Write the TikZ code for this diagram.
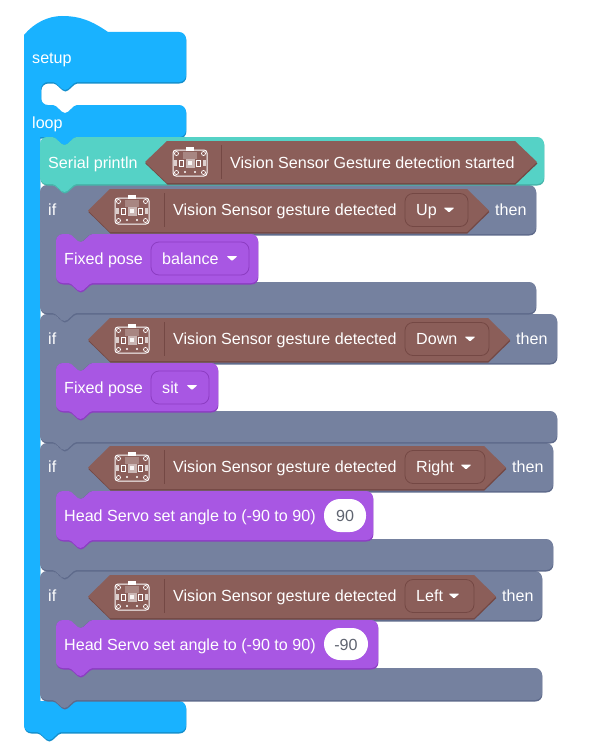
\documentclass[tikz,border=0pt]{standalone}
\usepackage{fontspec}
\setmainfont{Liberation Sans}
\definecolor{blueM}{HTML}{19B2FF}\definecolor{blueS}{HTML}{148FCC}
\definecolor{tealM}{HTML}{55D2C6}\definecolor{tealS}{HTML}{46B5AA}
\definecolor{slateM}{HTML}{75819F}\definecolor{slateS}{HTML}{5E6A8B}
\definecolor{purpM}{HTML}{A857E3}\definecolor{purpS}{HTML}{8C3DC2}
\definecolor{brownM}{HTML}{8B5E59}\definecolor{brownS}{HTML}{744844}
\definecolor{numgray}{HTML}{5F6470}
\newcommand\cTR[2]{-- ({#1-7},#2) .. controls ({#1-3},#2) and (#1,{#2+3}) .. (#1,{#2+7})}
\newcommand\cBR[2]{-- (#1,{#2-7}) .. controls (#1,{#2-3}) and ({#1-3},#2) .. ({#1-7},#2)}
\newcommand\cBL[2]{-- ({#1+7},#2) .. controls ({#1+3},#2) and (#1,{#2-3}) .. (#1,{#2-7})}
\newcommand\cTL[2]{-- (#1,{#2+7}) .. controls (#1,{#2+3}) and ({#1+3},#2) .. ({#1+7},#2)}
\newcommand\iDn[2]{-- ({#1+7},#2) .. controls ({#1+3},#2) and (#1,{#2+3}) .. (#1,{#2+7})}
\newcommand\iRt[2]{-- (#1,{#2-7}) .. controls (#1,{#2-3}) and ({#1+3},#2) .. ({#1+7},#2)}
\newcommand\nR[2]{-- ({#1-12},#2) .. controls ({#1-8},#2) and ({#1-4},{#2+8}) .. (#1,{#2+8}) .. controls ({#1+4},{#2+8}) and ({#1+8},#2) .. ({#1+12},#2)}
\newcommand\nL[2]{-- ({#1+12},#2) .. controls ({#1+8},#2) and ({#1+4},{#2+8}) .. (#1,{#2+8}) .. controls ({#1-4},{#2+8}) and ({#1-8},#2) .. ({#1-12},#2)}
\newcommand\twotone[3]{\fill[#2,yshift=-1.5pt,xshift=.4pt] #3; \fill[#1] #3;}
\newcommand\stackblock[6]{\twotone{#1}{#2}{({#3+7},#4) \nR{#3+24.5}{#4} \cTR{#5}{#4} \cBR{#5}{#6} \nL{#3+24.5}{#6} \cBL{#3}{#6} \cTL{#3}{#4} -- cycle}}
\newcommand\cshape[5]{\twotone{slateM}{slateS}{(47,#2) \nR{64.5}{#2} \cTR{#1}{#2} \cBR{#1}{#3} \nL{80}{#3} \iDn{56}{#3} \iRt{56}{#4} \cTR{#1}{#4} \cBR{#1}{#5} \nL{64.5}{#5} \cBL{40}{#5} \cTL{40}{#2} -- cycle}}
\newcommand\hexa[4]{\twotone{brownM}{brownS}{(#1,{(#2+#4)/2}) -- ({#1+22},#2) -- ({#3-22},#2) -- (#3,{(#2+#4)/2}) -- ({#3-22},#4) -- ({#1+22},#4) -- cycle}}
\newcommand\boardicon[2]{%
 \begin{scope}[shift={(#1,#2)}]
 \fill[white,opacity=.25] (-7,-11) rectangle (7,-4);
 \draw[white,line width=1pt,rounded corners=3] (-17,-13) rectangle (17,13);
 \fill[white] (-4,-16.5) rectangle (4,-12);
 \fill[white,opacity=.55] (-4.5,-4.5) rectangle (4.5,4.5);
 \fill[white,opacity=.85] (-2,-2) rectangle (2,2);
 \foreach \sx in {-1,1}{
  \draw[white,line width=.6pt] ({\sx*8.5-2},-3) rectangle ({\sx*8.5+2},3);
  \fill[white,opacity=.7] ({\sx*14.5-1.5},-3) rectangle ({\sx*14.5+1.5},3);
  \foreach \sy in {-1,1}{\draw[white,line width=.7pt] ({\sx*13.5},{\sy*9.5}) circle (2);}
  \fill[white] ({\sx*5},9) circle (1.2);
 }
 \end{scope}}
\newcommand\dropbox[6]{%
 \fill[brownM,draw=brownS,line width=.8pt,rounded corners=8] (#2,{#4-16.5}) rectangle (#3,{#4+16.5});
 \node[lab] (#1) at ({#2+11},{#4+5.8}) {#5};
 \fill[white,rounded corners=1] ({#6+.5},{#4-2.5}) -- ({#6+11.5},{#4-2.5}) -- ({#6+6},{#4+2.5}) -- cycle;}
\newcommand\ifblock[2]{\def\ifname{#1}\def\ifcy{#2}\ifrest}
\newcommand\ifrest[9]{%
 \cshape{#1}{#2}{#3}{#4}{#5}%
 \hexa{88}{\ifcy-21}{#6}{\ifcy+22}%
 \node[lab] (\ifname-if) at (48,{\ifcy+5.8}) {if};
 \boardicon{132}{\ifcy+1}
 \draw[brownS,line width=.8pt] (164,{\ifcy-17}) -- (164,{\ifcy+17});
 \node[lab] (\ifname-t) at (173,{\ifcy+5.8}) {Vision Sensor gesture detected};
 \dropbox{\ifname-d}{405}{#7}{\ifcy}{#8}{#9}
 \node[lab] (\ifname-then) at ({#6+6},{\ifcy+5.8}) {then};}
\tikzset{lab/.style={anchor=base west,inner sep=0,text=white,font=\fontsize{16.1}{18}\selectfont}}
\begin{document}
\begin{tikzpicture}[x=1pt,y=-1pt]
\useasboundingbox (0,0) rectangle (602,752);
\fill[white] (0,0) rectangle (602,752);
\twotone{blueM}{blueS}{(24,35) .. controls (34,23) and (48,16) .. (62,16) .. controls (80,16) and (92,21) .. (108,32)
 \cTR{186}{32} \cBR{186}{82} \nL{65}{82} \iDn{41}{82} \iRt{41}{105} \nR{65}{105} \cTR{186}{105} \cBR{186}{137}
 \nL{64.5}{137} -- (40,137) -- (40,701) \cTR{186}{701} \cBR{186}{732} \nL{49}{732} \cBL{24}{732} -- cycle}
\node[lab] (setup) at (32,63.2) {setup};
\node[lab] (loop) at (32,128.2) {loop};
\ifblock{ifD}{596}{542}{571}{620}{668}{700}{496}{474}{Left}{448}
\stackblock{purpM}{purpS}{56}{620}{378}{668}
\node[lab] (ps4) at (64,650.2) {Head Servo set angle to (-90 to 90)};
\fill[white,rounded corners=16] (324,628) rectangle (368,660);
\node[lab,text=numgray,anchor=base] (n4) at (346,650.2) {-90};
\ifblock{ifC}{467}{553}{443}{491}{539}{570}{506}{485}{Right}{460}
\stackblock{purpM}{purpS}{56}{491}{373}{540}
\node[lab] (ps3) at (64,521.2) {Head Servo set angle to (-90 to 90)};
\fill[white,rounded corners=16] (324,499) rectangle (366,532);
\node[lab,text=numgray,anchor=base] (n3) at (345,521.2) {90};
\ifblock{ifB}{339}{557}{314}{363}{411}{442}{510}{489}{Down}{464}
\stackblock{purpM}{purpS}{56}{363}{218}{411}
\node[lab] (fp2) at (64,393.2) {Fixed pose};
\fill[purpM,draw=purpS,line width=.8pt,rounded corners=8] (151,371) rectangle (209,404);
\node[lab] (sit) at (162,393.2) {sit};
\fill[white,rounded corners=1] (186.5,385) -- (197.5,385) -- (192,390) -- cycle;
\ifblock{ifA}{210}{536}{185}{234}{282}{313}{489}{468}{Up}{443}
\stackblock{purpM}{purpS}{56}{234}{258}{283}
\node[lab] (fp1) at (64,264.2) {Fixed pose};
\fill[purpM,draw=purpS,line width=.8pt,rounded corners=8] (151,242) rectangle (249,275);
\node[lab] (bal) at (162,264.2) {balance};
\fill[white,rounded corners=1] (226.5,256) -- (237.5,256) -- (232,261) -- cycle;
\stackblock{tealM}{tealS}{40}{137}{544}{184}
\hexa{145}{141}{537}{183}
\node[lab] (ser) at (48,168.2) {Serial println};
\boardicon{190}{163}
\draw[brownS,line width=.8pt] (221,145) -- (221,179);
\node[lab] (sert) at (230,168.2) {Vision Sensor Gesture detection started};
\end{tikzpicture}
\end{document}
